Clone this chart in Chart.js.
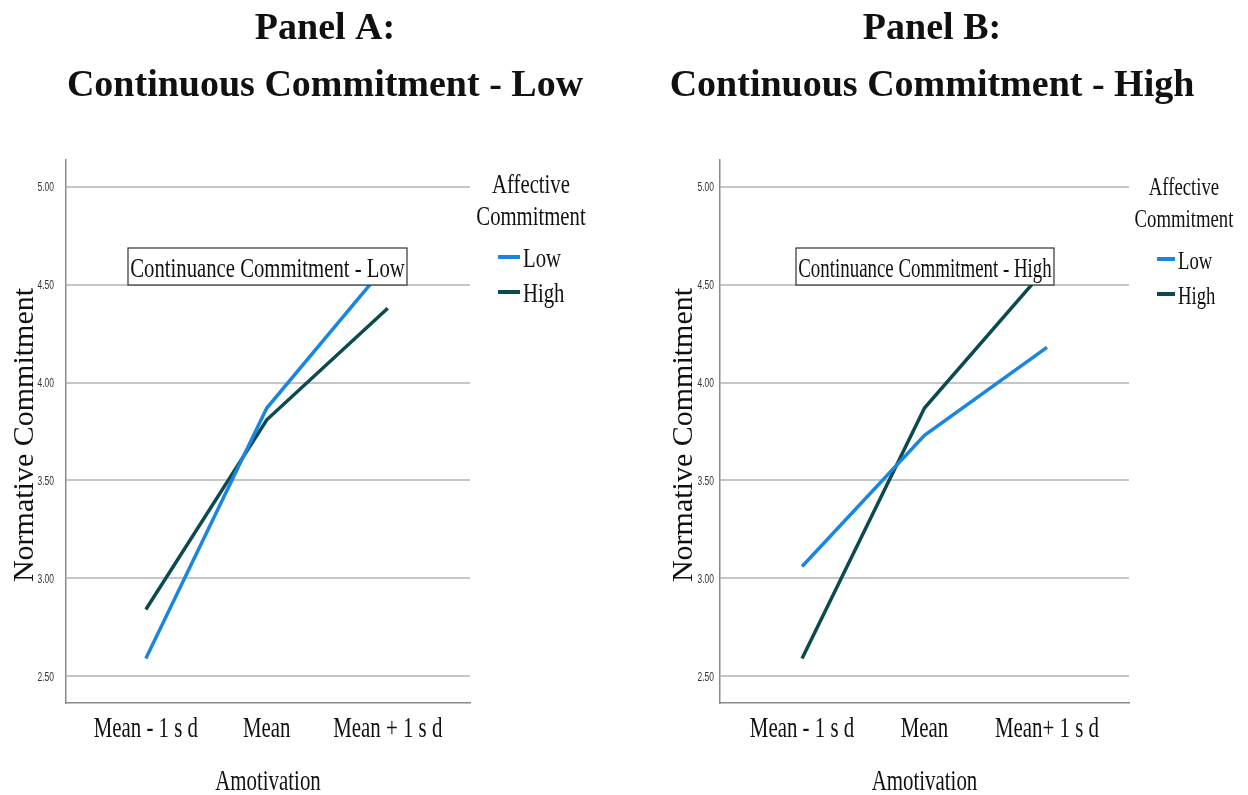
<!DOCTYPE html>
<html>
<head>
<meta charset="utf-8">
<script src="https://cdn.jsdelivr.net/npm/chart.js@4"></script>
<style>
  html, body { margin: 0; padding: 0; background: #fff; }
  #wrap { position: relative; width: 1248px; height: 795px; }
  canvas { position: absolute; top: 0; }
</style>
</head>
<body>
<div id="wrap">
  <canvas id="panelA" width="624" height="795" style="left:0"></canvas>
  <canvas id="panelB" width="624" height="795" style="left:624px"></canvas>
</div>
<script>
// values
const categoriesA = ["Mean - 1 s d", "Mean", "Mean + 1 s d"];
const categoriesB = ["Mean - 1 s d", "Mean", "Mean+ 1 s d"];
const yTicks = [2.5, 3, 3.5, 4, 4.5, 5];
const seriesNames = ["Low", "High"];

const lowA  = [2.59, 3.87, 4.61];
const highA = [2.84, 3.81, 4.38];
const lowB  = [3.06, 3.73, 4.18];
const highB = [2.59, 3.87, 4.59];

const BLUE = "#1a86e0";
const TEAL = "#0b4a4f";
const SERIF = "'Liberation Serif', 'Times New Roman', serif";

function txt(ctx, s, x, y, font, sx, align) {
  ctx.save();
  ctx.translate(x, y);
  ctx.scale(sx, 1);
  ctx.font = font;
  ctx.textAlign = align || "center";
  ctx.textBaseline = "alphabetic";
  ctx.fillStyle = "#111";
  ctx.fillText(s, 0, 0);
  ctx.restore();
}

function decor(p) {
  return {
    id: "decor",
    afterDatasetsDraw(chart) {
      const ctx = chart.ctx;
      const ca = chart.chartArea;
      const xs = chart.scales.x, ys = chart.scales.y;

      // boxed label (covers the line ends)
      const bx = ca.left + p.box[0], bw = p.box[1];
      ctx.save();
      ctx.fillStyle = "#fff";
      ctx.fillRect(bx, 248, bw, 37);
      ctx.strokeStyle = "#333";
      ctx.lineWidth = 1.2;
      ctx.strokeRect(bx, 248, bw, 37);
      ctx.restore();
      txt(ctx, p.boxText, bx + bw / 2, 277, p.boxFont + "px " + SERIF, p.sx);

      // titles
      txt(ctx, p.title1, p.titleX, 39, "bold 38px " + SERIF, 1);
      txt(ctx, p.title2, p.titleX, 96, "bold 38px " + SERIF, 1);

      // y tick labels
      ys.ticks.forEach(t => {
        ctx.save();
        ctx.translate(ca.left - p.yTickGap, ys.getPixelForValue(t.value) + 4.5);
        ctx.scale(0.65, 1);
        ctx.font = "13px 'Liberation Sans', Arial, sans-serif";
        ctx.fillStyle = "#333";
        ctx.textAlign = "right";
        ctx.fillText(t.value.toFixed(2), 0, 0);
        ctx.restore();
      });

      // x tick labels
      xs.ticks.forEach(t => {
        txt(ctx, p.cats[t.value], xs.getPixelForValue(t.value), 737, "29px " + SERIF, 0.72);
      });

      // axis titles
      txt(ctx, "Amotivation", (ca.left + ca.right) / 2, 790, "29px " + SERIF, 0.72);
      ctx.save();
      ctx.translate(p.yTitleX, 435);
      ctx.rotate(-Math.PI / 2);
      ctx.font = "30px " + SERIF;
      ctx.fillStyle = "#111";
      ctx.textAlign = "center";
      ctx.fillText("Normative Commitment", 0, 0);
      ctx.restore();

      // legend
      const lf = p.legFont + "px " + SERIF;
      txt(ctx, "Affective", p.legX, p.legY, lf, p.legSx);
      txt(ctx, "Commitment", p.legX, p.legY + 32, lf, p.legSx);
      chart.data.datasets.forEach((ds, i) => {
        const y = p.legY + 64 + i * 35;
        ctx.save();
        ctx.strokeStyle = ds.borderColor;
        ctx.lineWidth = 4;
        ctx.beginPath();
        ctx.moveTo(p.swX, y);
        ctx.lineTo(p.swX + p.swW, y);
        ctx.stroke();
        ctx.restore();
        txt(ctx, ds.label, p.swX + p.swW + 3, y + 10, lf, p.legSx, "left");
      });
    }
  };
}

function makeChart(id, cats, low, high, yWidth, padRight, xMin, xMax, p) {
  p.cats = cats;
  return new Chart(document.getElementById(id), {
    type: "line",
    data: {
      datasets: [
        { label: seriesNames[0], data: low.map((v, i) => ({ x: i, y: v })), borderColor: BLUE },
        { label: seriesNames[1], data: high.map((v, i) => ({ x: i, y: v })), borderColor: TEAL }
      ].map(d => Object.assign(d, { borderWidth: 3.5, pointRadius: 0, tension: 0, fill: false }))
    },
    options: {
      responsive: false,
      animation: false,
      layout: { padding: { left: 0, right: padRight, top: 160, bottom: 0 } },
      plugins: { legend: { display: false }, tooltip: { enabled: false } },
      scales: {
        x: {
          type: "linear", min: xMin, max: xMax,
          afterBuildTicks: s => { s.ticks = cats.map((c, i) => ({ value: i })); },
          afterFit: s => { s.height = 92; },
          ticks: { display: false },
          grid: { display: false },
          border: { color: "#8a8a8a", width: 1.5 }
        },
        y: {
          min: 2.362, max: 5.138,
          afterBuildTicks: s => { s.ticks = yTicks.map(v => ({ value: v })); },
          afterFit: s => { s.width = yWidth; },
          ticks: { display: false },
          grid: { color: "#c6c6c6", lineWidth: 2, drawTicks: false },
          border: { color: "#8a8a8a", width: 1.5 }
        }
      }
    },
    plugins: [decor(p)]
  });
}

makeChart("panelA", categoriesA, lowA, highA, 66, 154, -0.66, 2.68, {
  title1: "Panel A:", title2: "Continuous Commitment - Low", titleX: 325,
  boxText: "Continuance Commitment - Low", box: [62, 279], boxFont: 28, sx: 0.74,
  yTickGap: 12, yTitleX: 33,
  legX: 531, legY: 193, legFont: 28, legSx: 0.74, swX: 498, swW: 22
});

makeChart("panelB", categoriesB, lowB, highB, 96, 119, -0.67, 2.67, {
  title1: "Panel B:", title2: "Continuous Commitment - High", titleX: 308,
  boxText: "Continuance Commitment - High", box: [76, 258], boxFont: 27, sx: 0.70,
  yTickGap: 6, yTitleX: 68,
  legX: 560, legY: 195, legFont: 26, legSx: 0.72, swX: 533, swW: 18
});
</script>
</body>
</html>
